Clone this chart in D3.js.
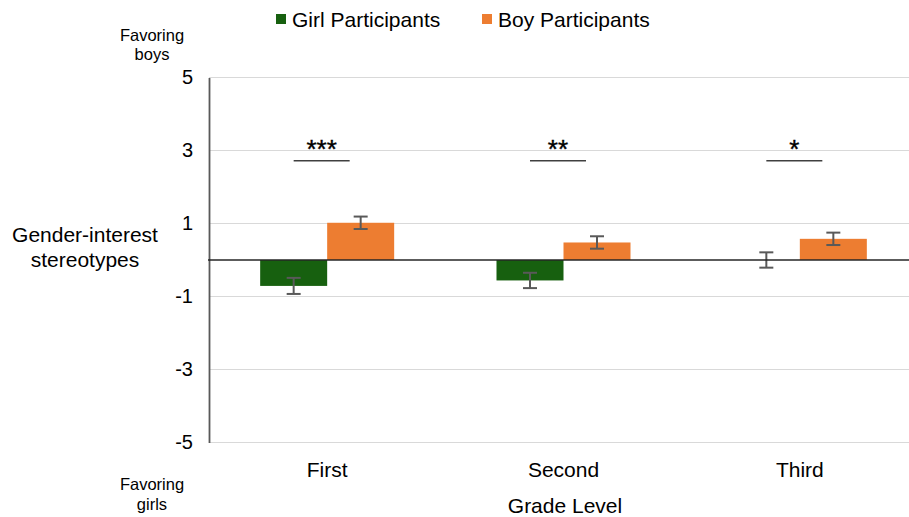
<!DOCTYPE html>
<html>
<head>
<meta charset="utf-8">
<script src="https://cdn.jsdelivr.net/npm/d3@7"></script>
<style>
  html, body { margin: 0; padding: 0; background: #fff; }
  svg { display: block; font-family: "Liberation Sans", Arial, sans-serif; }
</style>
</head>
<body>
<svg id="chart" width="909" height="517"></svg>
<script>
// Grade levels and mean stereotype scores with standard errors
const grades = ["First", "Second", "Third"];
const seriesNames = ["Girl Participants", "Boy Participants"];
const girlMeans = [-0.71, -0.56, 0.0];
const girlErrors = [0.22, 0.21, 0.21];
const boyMeans = [1.02, 0.48, 0.58];
const boyErrors = [0.17, 0.17, 0.17];
const sigStars = ["***", "**", "*"];
const sigLevel = 2.72;
const yTicks = [-5, -3, -1, 1, 3, 5];

const colors = ["#17600f", "#ed7d31"];
const svg = d3.select("#chart");

const x = d3.scaleBand().domain(grades).range([209, 918]).paddingInner(0.433).paddingOuter(0.2165);
const xs = d3.scaleBand().domain(seriesNames).range([0, x.bandwidth()]).padding(0);
const y = d3.scaleLinear().domain([-5, 5]).range([442.5, 77.5]);

// Gridlines
svg.append("g").selectAll("line").data(yTicks).join("line")
  .attr("x1", 209).attr("x2", 918)
  .attr("y1", d => y(d)).attr("y2", d => y(d))
  .attr("stroke", "#d9d9d9").attr("stroke-width", 1);

// Y axis with tick labels (plain hyphen for negatives)
const yAxis = d3.axisLeft(y).tickValues(yTicks).tickSize(0).tickPadding(16).tickFormat(d => String(d));
const yg = svg.append("g").attr("transform", "translate(209,0)").call(yAxis);
yg.select(".domain").attr("stroke", "#595959").attr("stroke-width", 1.8);
yg.selectAll("text").attr("font-size", 20).attr("fill", "#000").attr("font-family", "Liberation Sans, Arial, sans-serif");

// Bars
const rows = grades.map((g, i) => ({
  grade: g,
  values: [
    { name: seriesNames[0], v: girlMeans[i], e: girlErrors[i], c: colors[0] },
    { name: seriesNames[1], v: boyMeans[i], e: boyErrors[i], c: colors[1] }
  ]
}));

const groups = svg.append("g").selectAll("g").data(rows).join("g")
  .attr("transform", d => `translate(${x(d.grade)},0)`);

groups.selectAll("rect").data(d => d.values).join("rect")
  .attr("x", d => xs(d.name))
  .attr("width", xs.bandwidth())
  .attr("y", d => y(Math.max(0, d.v)))
  .attr("height", d => Math.abs(y(d.v) - y(0)))
  .attr("fill", d => d.c);

// Zero baseline
svg.append("line")
  .attr("x1", 208).attr("x2", 918)
  .attr("y1", y(0)).attr("y2", y(0))
  .attr("stroke", "#262626").attr("stroke-width", 1.5);

// Error bars
const capHalf = 7;
const eb = groups.selectAll("g.err").data(d => d.values).join("g").attr("class", "err")
  .attr("stroke", "#595959").attr("stroke-width", 2);
eb.append("line")
  .attr("x1", d => xs(d.name) + xs.bandwidth() / 2).attr("x2", d => xs(d.name) + xs.bandwidth() / 2)
  .attr("y1", d => y(d.v + d.e)).attr("y2", d => y(d.v - d.e));
eb.append("line")
  .attr("x1", d => xs(d.name) + xs.bandwidth() / 2 - capHalf).attr("x2", d => xs(d.name) + xs.bandwidth() / 2 + capHalf)
  .attr("y1", d => y(d.v + d.e)).attr("y2", d => y(d.v + d.e));
eb.append("line")
  .attr("x1", d => xs(d.name) + xs.bandwidth() / 2 - capHalf).attr("x2", d => xs(d.name) + xs.bandwidth() / 2 + capHalf)
  .attr("y1", d => y(d.v - d.e)).attr("y2", d => y(d.v - d.e));

// Significance brackets
const sig = svg.append("g").selectAll("g").data(grades).join("g")
  .attr("transform", d => `translate(${x(d) + xs.bandwidth() / 2},0)`);
sig.append("line")
  .attr("x1", 0).attr("x2", 56)
  .attr("y1", y(sigLevel)).attr("y2", y(sigLevel))
  .attr("stroke", "#404040").attr("stroke-width", 1.5);
sig.append("text")
  .attr("x", 28).attr("y", y(sigLevel) - 3)
  .attr("text-anchor", "middle")
  .attr("font-size", 26)
  .attr("fill", "#000").attr("stroke", "#000").attr("stroke-width", 0.4)
  .text((d, i) => sigStars[i]);

// Category labels
svg.append("g").selectAll("text").data(grades).join("text")
  .attr("x", d => x(d) + x.bandwidth() / 2)
  .attr("y", 477)
  .attr("text-anchor", "middle").attr("font-size", 21).attr("fill", "#000")
  .text(d => d);

// Axis titles
svg.append("text").attr("x", 565).attr("y", 512.5)
  .attr("text-anchor", "middle").attr("font-size", 21).attr("fill", "#000")
  .text("Grade Level");

const yt = svg.append("text").attr("text-anchor", "middle").attr("font-size", 21).attr("fill", "#000");
yt.append("tspan").attr("x", 85).attr("y", 241.5).text("Gender-interest");
yt.append("tspan").attr("x", 85).attr("y", 266.5).text("stereotypes");

const fb = svg.append("text").attr("text-anchor", "middle").attr("font-size", 16.5).attr("fill", "#000");
fb.append("tspan").attr("x", 152).attr("y", 40.5).text("Favoring");
fb.append("tspan").attr("x", 152).attr("y", 59.5).text("boys");

const fg = svg.append("text").attr("text-anchor", "middle").attr("font-size", 16.5).attr("fill", "#000");
fg.append("tspan").attr("x", 152).attr("y", 489.5).text("Favoring");
fg.append("tspan").attr("x", 152).attr("y", 510).text("girls");

// Legend
const legendX = [276, 482];
const lg = svg.append("g").selectAll("g").data(seriesNames).join("g")
  .attr("transform", (d, i) => `translate(${legendX[i]},0)`);
lg.append("rect").attr("x", 0).attr("y", 14).attr("width", 10).attr("height", 10)
  .attr("fill", (d, i) => colors[i]);
lg.append("text").attr("x", 16).attr("y", 27).attr("font-size", 21).attr("fill", "#000")
  .text(d => d);
</script>
</body>
</html>
